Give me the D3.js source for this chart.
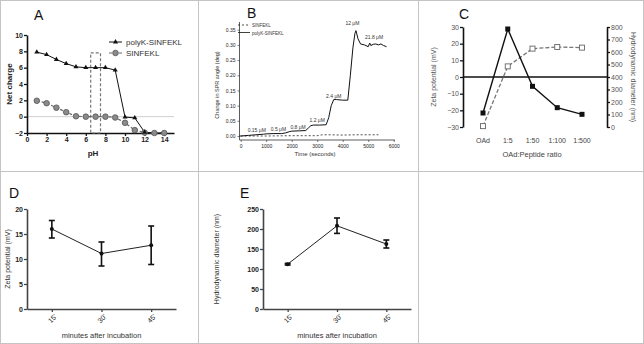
<!DOCTYPE html>
<html>
<head>
<meta charset="utf-8">
<script src="https://cdn.jsdelivr.net/npm/d3@7"></script>
<style>
  body { margin: 0; background: #fff; }
  svg { font-family: "Liberation Sans", Arial, sans-serif; display: block; }
</style>
</head>
<body>
<div id="wrapper"></div>
<script>
// ---- Panel A: net charge vs pH
const phValues = [1, 2, 3, 4, 5, 6, 7, 8, 9, 10, 11, 12, 13, 14];
const polyKCharge = [7.9, 7.6, 7.0, 6.5, 6.1, 6.0, 6.0, 6.0, 5.7, -0.05, -0.15, -1.9, -2.0, -2.0];
const sinfeklCharge = [1.95, 1.65, 1.1, 0.55, 0.05, 0.0, 0.0, 0.0, -0.1, -0.75, -1.65, -1.95, -2.0, -2.0];
const phTicks = [0, 2, 4, 6, 8, 10, 12, 14];
const chargeTicks = [-2, 0, 2, 4, 6, 8, 10];
const phBox = [6.5, 7.5, -2, 7.8];

// ---- Panel B: SPR angle vs time
const sprTimePolyK = [-50, 0, 300, 600, 900, 1000, 1300, 1600, 1750, 1900, 2000, 2300, 2550, 2650, 2750, 2850, 3100, 3350, 3450, 3550, 3650, 3750, 4000, 4200, 4300, 4400, 4480, 4520, 4600, 4700, 4850, 5000, 5060, 5100, 5200, 5300, 5400, 5500, 5600, 5720];
const sprPolyK = [0.0, 0.0, 0.002, 0.004, 0.006, 0.007, 0.008, 0.008, 0.01, 0.014, 0.016, 0.017, 0.018, 0.026, 0.034, 0.036, 0.036, 0.037, 0.06, 0.1, 0.12, 0.12, 0.118, 0.118, 0.2, 0.29, 0.338, 0.347, 0.32, 0.303, 0.3, 0.294, 0.306, 0.298, 0.302, 0.303, 0.3, 0.303, 0.298, 0.294];
const sprTimeSinfekl = [0, 1000, 2000, 3000, 3200, 3500, 4000, 4500, 5000, 5400];
const sprSinfekl = [0.0, 0.0, 0.001, 0.001, 0.004, 0.004, 0.003, 0.004, 0.004, 0.004];
const sprLabels = ["0.15 μM", "0.5 μM", "0.8 μM", "1.2 μM", "2.4 μM", "12 μM", "21.8 μM"];
const sprLabelTime = [630, 1480, 2250, 3000, 3650, 4380, 5230];
const sprLabelValue = [0.012, 0.015, 0.022, 0.045, 0.126, 0.365, 0.318];
const timeTicks = [0, 1000, 2000, 3000, 4000, 5000, 6000];
const sprTicks = [0, 0.05, 0.1, 0.15, 0.2, 0.25, 0.3, 0.35];

// ---- Panel C: zeta potential & diameter vs ratio
const ratios = ["OAd", "1:5", "1:50", "1:100", "1:500"];
const ratioZeta = [-21.6, 28.8, -5.6, -18.4, -22.4];
const ratioDiameter = [7, 485, 627, 640, 635];
const zetaTicksC = [-30, -20, -10, 0, 10, 20, 30];
const diameterTicksC = [0, 100, 200, 300, 400, 500, 600, 700, 800];

// ---- Panels D & E: after incubation
const minutes = ["15'", "30'", "45'"];
const zetaMean = [16.0, 11.1, 12.75];
const zetaLow = [14.2, 8.6, 8.9];
const zetaHigh = [17.7, 13.4, 16.6];
const zetaTicksD = [0, 5, 10, 15, 20];
const diamMean = [112, 208, 162.5];
const diamLow = [110, 189, 152.5];
const diamHigh = [114, 227.5, 172.5];
const diamTicksE = [0, 50, 100, 150, 200, 250];

const width = 644, height = 344;
const svg = d3.select("#wrapper").append("svg")
  .attr("width", width).attr("height", height);

// frame / panel grid
svg.append("rect").attr("x", 0.5).attr("y", 0.5).attr("width", 643).attr("height", 343)
  .attr("fill", "none").attr("stroke", "#c4c4c4");
[198.5, 418.5].forEach(x => svg.append("line").attr("x1", x).attr("x2", x).attr("y1", 0).attr("y2", height).attr("stroke", "#c4c4c4"));
svg.append("line").attr("x1", 0).attr("x2", width).attr("y1", 171.5).attr("y2", 171.5).attr("stroke", "#c4c4c4");

function panelLetter(txt, x, y) {
  svg.append("text").attr("x", x).attr("y", y).attr("font-size", 14).attr("fill", "#111").text(txt);
}

function styleAxis(g, color, width, fontSize, weight) {
  g.select(".domain").attr("stroke", color).attr("stroke-width", width);
  g.selectAll(".tick line").attr("stroke", color).attr("stroke-width", width * 0.8);
  g.selectAll(".tick text").attr("font-size", fontSize).attr("font-weight", weight)
    .attr("font-family", "Liberation Sans, Arial, sans-serif").attr("fill", "#222");
}

// ================= Panel A =================
{
  const x = d3.scaleLinear().domain([0, 15]).range([27, 174]);
  const y = d3.scaleLinear().domain([-2, 10]).range([133, 35]);
  const g = svg.append("g");
  panelLetter("A", 34, 20);

  g.append("line").attr("x1", x(0)).attr("x2", x(15)).attr("y1", y(0)).attr("y2", y(0))
    .attr("stroke", "#d0d0d0").attr("stroke-width", 1);

  const xa = g.append("g").attr("transform", `translate(0,${y(-2)})`)
    .call(d3.axisBottom(x).tickValues(phTicks).tickSize(3).tickSizeOuter(0).tickPadding(1));
  styleAxis(xa, "#111", 1.6, 7, "bold");
  const ya = g.append("g").attr("transform", `translate(${x(0)},0)`)
    .call(d3.axisLeft(y).tickValues(chargeTicks).tickSize(3).tickSizeOuter(0).tickPadding(1));
  styleAxis(ya, "#111", 1.6, 7, "bold");

  g.append("text").attr("x", 93).attr("y", 156).attr("text-anchor", "middle")
    .attr("font-size", 8).attr("font-weight", "bold").attr("fill", "#222").text("pH");
  g.append("text").attr("transform", `translate(12,84) rotate(-90)`).attr("text-anchor", "middle")
    .attr("font-size", 8).attr("font-weight", "bold").attr("fill", "#222").text("Net charge");

  // dashed box
  g.append("rect").attr("x", x(phBox[0])).attr("y", y(phBox[3]))
    .attr("width", x(phBox[1]) - x(phBox[0])).attr("height", y(phBox[2]) - y(phBox[3]))
    .attr("fill", "none").attr("stroke", "#777").attr("stroke-width", 1.2).attr("stroke-dasharray", "3,2");

  const sinfekl = phValues.map((p, i) => [p, sinfeklCharge[i]]);
  const polyk = phValues.map((p, i) => [p, polyKCharge[i]]);
  const line = d3.line().x(d => x(d[0])).y(d => y(d[1]));

  g.append("path").attr("d", line(sinfekl)).attr("fill", "none")
    .attr("stroke", "#666").attr("stroke-width", 1.2).attr("stroke-dasharray", "3,2");
  g.append("path").attr("d", line(polyk)).attr("fill", "none")
    .attr("stroke", "#111").attr("stroke-width", 1);

  g.selectAll(".circ").data(sinfekl).join("circle")
    .attr("cx", d => x(d[0])).attr("cy", d => y(d[1])).attr("r", 2.8)
    .attr("fill", "#8a8a8a").attr("stroke", "#555").attr("stroke-width", 0.8);
  const tri = d3.symbol().type(d3.symbolTriangle).size(11);
  g.selectAll(".tri").data(polyk.slice(0, 12)).join("path")
    .attr("d", tri).attr("transform", d => `translate(${x(d[0])},${y(d[1])})`).attr("fill", "#111");

  // legend
  g.append("line").attr("x1", 109).attr("x2", 122).attr("y1", 42).attr("y2", 42).attr("stroke", "#111");
  g.append("path").attr("d", tri).attr("transform", "translate(115.5,42)").attr("fill", "#111");
  g.append("text").attr("x", 126).attr("y", 45).attr("font-size", 8).attr("fill", "#333").text("polyK-SINFEKL");
  g.append("line").attr("x1", 109).attr("x2", 122).attr("y1", 53).attr("y2", 53)
    .attr("stroke", "#666").attr("stroke-width", 1.2).attr("stroke-dasharray", "3,2");
  g.append("circle").attr("cx", 115.5).attr("cy", 53).attr("r", 2.8)
    .attr("fill", "#8a8a8a").attr("stroke", "#555").attr("stroke-width", 0.8);
  g.append("text").attr("x", 126).attr("y", 56).attr("font-size", 8).attr("fill", "#333").text("SINFEKL");
}

// ================= Panel B =================
{
  const x = d3.scaleLinear().domain([0, 6000]).range([240.7, 393.7]);
  const y = d3.scaleLinear().domain([0, 0.35]).range([136, 29.7]);
  const g = svg.append("g");
  panelLetter("B", 247, 18);

  const xa = g.append("g").attr("transform", `translate(0,140)`)
    .call(d3.axisBottom(x).tickValues(timeTicks).tickFormat(d3.format("d")).tickSize(2).tickSizeOuter(0).tickPadding(2));
  xa.select(".domain").attr("d", `M239.5,0H395`);
  styleAxis(xa, "#333", 0.8, 5, "normal");
  const ya = g.append("g").attr("transform", `translate(239.5,0)`)
    .call(d3.axisLeft(y).tickValues(sprTicks).tickFormat(d3.format(".2f")).tickSize(2).tickSizeOuter(0).tickPadding(2));
  ya.select(".domain").attr("d", `M0,22V140`);
  styleAxis(ya, "#333", 0.8, 5, "normal");

  g.append("text").attr("x", 315).attr("y", 156).attr("text-anchor", "middle")
    .attr("font-size", 6).attr("fill", "#333").text("Time (seconds)");
  g.append("text").attr("transform", `translate(219,85) rotate(-90)`).attr("text-anchor", "middle")
    .attr("font-size", 5.5).attr("fill", "#333").text("Change in SPR angle (deg)");

  const line = d3.line().x(d => x(d[0])).y(d => y(d[1]));
  g.append("path").attr("d", line(sprTimeSinfekl.map((t, i) => [t, sprSinfekl[i]])))
    .attr("fill", "none").attr("stroke", "#222").attr("stroke-width", 0.8).attr("stroke-dasharray", "2,2");
  g.append("path").attr("d", line(sprTimePolyK.map((t, i) => [t, sprPolyK[i]])))
    .attr("fill", "none").attr("stroke", "#111").attr("stroke-width", 1);

  g.selectAll(".lab").data(sprLabels).join("text")
    .attr("x", (d, i) => x(sprLabelTime[i])).attr("y", (d, i) => y(sprLabelValue[i]))
    .attr("text-anchor", "middle").attr("font-size", 5).attr("fill", "#333").text(d => d);

  // legend
  g.append("line").attr("x1", 238).attr("x2", 250).attr("y1", 25).attr("y2", 25)
    .attr("stroke", "#222").attr("stroke-width", 0.8).attr("stroke-dasharray", "2,2");
  g.append("text").attr("x", 252).attr("y", 27).attr("font-size", 4.5).attr("fill", "#333").text("SINFEKL");
  g.append("line").attr("x1", 238).attr("x2", 250).attr("y1", 32.5).attr("y2", 32.5)
    .attr("stroke", "#111").attr("stroke-width", 0.8);
  g.append("text").attr("x", 252).attr("y", 34.5).attr("font-size", 4.5).attr("fill", "#333").text("polyK-SINFEKL");
}

// ================= Panel C =================
{
  const x = d3.scalePoint().domain(ratios).range([483, 582]);
  const yZ = d3.scaleLinear().domain([-30, 30]).range([127, 27]);
  const yD = d3.scaleLinear().domain([0, 800]).range([127, 27]);
  const g = svg.append("g");
  panelLetter("C", 459, 19);

  const la = g.append("g").attr("transform", `translate(463,0)`)
    .call(d3.axisLeft(yZ).tickValues(zetaTicksC).tickSize(3).tickSizeOuter(0).tickPadding(1));
  styleAxis(la, "#111", 1.6, 7, "normal");
  la.selectAll(".tick text").attr("fill", "#555");
  const ra = g.append("g").attr("transform", `translate(607,0)`)
    .call(d3.axisRight(yD).tickValues(diameterTicksC).tickSize(3).tickSizeOuter(0).tickPadding(1));
  styleAxis(ra, "#111", 1.6, 7, "normal");
  ra.selectAll(".tick text").attr("fill", "#555");

  g.append("line").attr("x1", 463).attr("x2", 607).attr("y1", yZ(0)).attr("y2", yZ(0))
    .attr("stroke", "#111").attr("stroke-width", 1.6);

  g.selectAll(".cat").data(ratios).join("text")
    .attr("x", d => x(d)).attr("y", 143).attr("text-anchor", "middle")
    .attr("font-size", 7).attr("fill", "#444").text(d => d);
  g.append("text").attr("x", 532).attr("y", 157).attr("text-anchor", "middle")
    .attr("font-size", 7.5).attr("fill", "#444").text("OAd:Peptide ratio");
  g.append("text").attr("transform", `translate(436,77) rotate(-90)`).attr("text-anchor", "middle")
    .attr("font-size", 7).attr("fill", "#555").text("Zeta potential (mV)");
  g.append("text").attr("transform", `translate(631,77) rotate(90)`).attr("text-anchor", "middle")
    .attr("font-size", 7).attr("fill", "#555").text("Hydrodynamic diameter (nm)");

  const diam = ratios.map((r, i) => [r, ratioDiameter[i]]);
  const zeta = ratios.map((r, i) => [r, ratioZeta[i]]);
  g.append("path").attr("d", d3.line().x(d => x(d[0])).y(d => yD(d[1]))(diam))
    .attr("fill", "none").attr("stroke", "#777").attr("stroke-width", 1.3).attr("stroke-dasharray", "4,2");
  g.append("path").attr("d", d3.line().x(d => x(d[0])).y(d => yZ(d[1]))(zeta))
    .attr("fill", "none").attr("stroke", "#111").attr("stroke-width", 1.4);
  g.selectAll(".dsq").data(diam).join("rect")
    .attr("x", d => x(d[0]) - 2.5).attr("y", d => yD(d[1]) - 2.5).attr("width", 5).attr("height", 5)
    .attr("fill", "#fff").attr("stroke", "#666").attr("stroke-width", 0.9);
  g.selectAll(".zsq").data(zeta).join("rect")
    .attr("x", d => x(d[0]) - 2.5).attr("y", d => yZ(d[1]) - 2.5).attr("width", 5).attr("height", 5)
    .attr("fill", "#111");
}

// ================= Panels D & E =================
function incubationPanel(opts) {
  const x = d3.scalePoint().domain(minutes).range(opts.xRange).padding(0.5);
  const y = d3.scaleLinear().domain(opts.domain).range([309, 209]);
  const g = svg.append("g");
  panelLetter(opts.letter, opts.letterX, 198);

  const xa = g.append("g").attr("transform", `translate(0,309)`)
    .call(d3.axisBottom(x).tickSize(3).tickSizeOuter(0).tickPadding(2));
  styleAxis(xa, "#444", 1.6, 7, "normal");
  xa.selectAll(".tick text").attr("text-anchor", "end")
    .attr("transform", "translate(-1,2) rotate(-45)").attr("dy", "0.5em");
  const ya = g.append("g").attr("transform", `translate(${opts.xRange[0]},0)`)
    .call(d3.axisLeft(y).tickValues(opts.ticks).tickSize(3).tickSizeOuter(0).tickPadding(1));
  styleAxis(ya, "#444", 1.6, 7, "bold");

  const cx = (opts.xRange[0] + opts.xRange[1]) / 2;
  g.append("text").attr("x", cx).attr("y", 338).attr("text-anchor", "middle")
    .attr("font-size", 7.5).attr("fill", "#333").text("minutes after incubation");
  g.append("text").attr("transform", `translate(${opts.labelX},259) rotate(-90)`).attr("text-anchor", "middle")
    .attr("font-size", 7).attr("fill", "#333").text(opts.yLabel);

  const pts = minutes.map((m, i) => ({ m, v: opts.mean[i], lo: opts.low[i], hi: opts.high[i] }));
  g.append("path").attr("d", d3.line().x(d => x(d.m)).y(d => y(d.v))(pts))
    .attr("fill", "none").attr("stroke", "#222").attr("stroke-width", 1);
  const eb = g.selectAll(".eb").data(pts).join("g");
  eb.append("line").attr("x1", d => x(d.m)).attr("x2", d => x(d.m))
    .attr("y1", d => y(d.lo)).attr("y2", d => y(d.hi)).attr("stroke", "#111").attr("stroke-width", 1.6);
  eb.append("line").attr("x1", d => x(d.m) - 3).attr("x2", d => x(d.m) + 3)
    .attr("y1", d => y(d.lo)).attr("y2", d => y(d.lo)).attr("stroke", "#111").attr("stroke-width", 1.6);
  eb.append("line").attr("x1", d => x(d.m) - 3).attr("x2", d => x(d.m) + 3)
    .attr("y1", d => y(d.hi)).attr("y2", d => y(d.hi)).attr("stroke", "#111").attr("stroke-width", 1.6);
  eb.append("circle").attr("cx", d => x(d.m)).attr("cy", d => y(d.v)).attr("r", 2).attr("fill", "#111");
}

incubationPanel({
  letter: "D", letterX: 9, xRange: [27, 176], domain: [0, 20], ticks: zetaTicksD,
  mean: zetaMean, low: zetaLow, high: zetaHigh, yLabel: "Zeta potential (mV)", labelX: 10
});
incubationPanel({
  letter: "E", letterX: 240, xRange: [263, 411], domain: [0, 250], ticks: diamTicksE,
  mean: diamMean, low: diamLow, high: diamHigh, yLabel: "Hydrodynamic diameter (nm)", labelX: 219
});
</script>
</body>
</html>
